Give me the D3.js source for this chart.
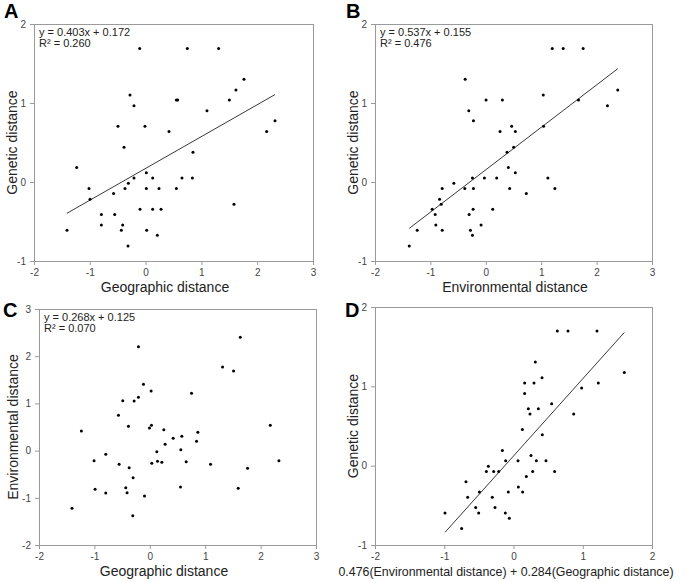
<!DOCTYPE html>
<html><head><meta charset="utf-8">
<script src="https://cdn.jsdelivr.net/npm/d3@7"></script>
<style>
body{margin:0;background:#fff;}
svg{display:block;font-family:Arial,"Liberation Sans",sans-serif;}
</style></head>
<body><div id="chart"></div>
<script>
// ---- data ----
const geneticDist = [1.69,1.69,1.69,1.30,1.164,1.037,1.037,1.037,0.902,0.775,0.640,1.10,0.965,0.707,0.707,0.640,0.441,0.378,0.183,0.116,0.052,0.052,0.052,0.052,-0.015,-0.083,-0.083,-0.083,-0.083,-0.083,-0.146,-0.218,-0.281,-0.345,-0.345,-0.345,-0.412,-0.412,-0.543,-0.543,-0.611,-0.611,-0.611,-0.674,-0.809];
const geoDistA = [-0.106,0.748,1.309,1.763,1.619,1.501,0.551,0.575,1.100,2.319,2.170,-0.280,-0.208,-0.495,-0.011,0.419,-0.387,0.849,-1.235,0.013,-0.208,0.127,0.652,0.838,-0.309,-1.014,-0.369,0.013,0.240,0.551,-0.574,-0.996,1.584,-0.100,0.127,0.276,-0.793,-0.554,-0.793,-0.411,-1.409,-0.435,0.019,0.210,-0.315];

const envDistB = [1.199,1.397,1.757,-0.373,2.382,1.037,0.005,0.299,1.673,-0.307,2.196,-0.223,0.467,1.043,0.257,0.533,0.503,0.383,0.407,0.533,-0.577,-0.241,-0.025,0.197,1.121,-0.787,-0.379,-0.223,0.431,1.247,0.731,-0.835,-0.805,-0.968,-0.229,0.125,-0.914,-0.301,-0.902,-0.085,-1.238,-0.787,-0.277,-0.241,-1.382];
const genDistB = [1.69,1.69,1.69,1.30,1.164,1.10,1.037,1.037,1.037,0.902,0.965,0.775,0.707,0.707,0.640,0.640,0.441,0.378,0.183,0.116,-0.015,0.052,0.052,0.052,0.052,-0.083,-0.083,-0.083,-0.083,-0.083,-0.146,-0.218,-0.281,-0.345,-0.345,-0.345,-0.412,-0.412,-0.543,-0.543,-0.611,-0.611,-0.611,-0.674,-0.809];

const geoDistC = [1.633,-0.205,1.313,1.512,-0.114,0.024,0.753,-0.205,-0.488,-0.283,-0.566,-1.235,-0.386,0.030,-0.006,2.175,0.253,0.867,0.578,0.422,0.843,0.277,0.560,0.127,-0.795,-1.006,0.139,0.217,0.036,0.657,-0.554,1.096,2.331,-0.373,1.765,-0.301,0.554,-0.434,1.596,-0.988,-0.795,-0.410,-0.096,-1.404,-0.307];
const envDistC = [2.400,2.202,1.771,1.686,1.404,1.263,1.213,1.129,1.058,1.051,0.747,0.415,0.514,0.535,0.479,0.535,0.443,0.387,0.302,0.260,0.196,0.133,0.020,-0.023,-0.079,-0.213,-0.227,-0.249,-0.270,-0.234,-0.291,-0.291,-0.213,-0.362,-0.376,-0.573,-0.771,-0.785,-0.799,-0.821,-0.898,-0.891,-0.962,-1.223,-1.379];

const combinedD = [0.633,0.787,1.206,0.315,1.600,0.412,0.161,0.296,1.225,0.984,0.161,0.551,0.214,0.359,0.238,0.869,0.128,0.416,-0.161,0.253,-0.113,0.065,0.330,0.469,-0.363,-0.392,-0.286,-0.214,0.277,0.594,0.185,-0.686,0.070,-0.493,-0.075,0.132,-0.662,-0.306,-0.546,-0.267,-0.989,-0.503,-0.118,-0.060,-0.749];
const genDistD = [1.697,1.697,1.697,1.306,1.175,1.108,1.041,1.041,1.041,0.978,0.910,0.780,0.717,0.717,0.650,0.650,0.456,0.389,0.191,0.128,0.061,0.061,0.061,0.061,-0.007,-0.074,-0.074,-0.074,-0.074,-0.074,-0.137,-0.204,-0.268,-0.331,-0.331,-0.331,-0.398,-0.398,-0.528,-0.528,-0.596,-0.596,-0.596,-0.663,-0.793];

const fitA = {slope:0.403, intercept:0.172, label1:"y = 0.403x + 0.172", label2:"R² = 0.260"};
const fitB = {slope:0.537, intercept:0.155, label1:"y = 0.537x + 0.155", label2:"R² = 0.476"};
const fitC = {label1:"y = 0.268x + 0.125", label2:"R² = 0.070"};
const fitD = {slope:0.973, intercept:0.122};

const xTicksA = [-2,-1,0,1,2,3], yTicksA = [-1,0,1,2];
const xTicksB = [-2,-1,0,1,2,3], yTicksB = [-1,0,1,2];
const xTicksC = [-2,-1,0,1,2,3], yTicksC = [-2,-1,0,1,2,3];
const xTicksD = [-2,-1,0,1,2],   yTicksD = [-1,0,1,2];

// ---- drawing ----
const W=686,H=582;
const svg=d3.select("#chart").append("svg").attr("width",W).attr("height",H);

const panels=[
 {letter:"A",lx:4,ly:18,box:[34,313,24,261],xd:[-2,3],yd:[-1,2],xt:xTicksA,yt:yTicksA,x:geoDistA,y:geneticDist,fit:fitA,line:true,
  xlab:"Geographic distance",xlx:165,xly:292,xfs:14,ylab:"Genetic distance",ylx:17},
 {letter:"B",lx:346,ly:18,box:[375,652,24,261],xd:[-2,3],yd:[-1,2],xt:xTicksB,yt:yTicksB,x:envDistB,y:genDistB,fit:fitB,line:true,
  xlab:"Environmental distance",xlx:515,xly:292,xfs:14,ylab:"Genetic distance",ylx:358},
 {letter:"C",lx:3,ly:317,box:[39,316,309,545],xd:[-2,3],yd:[-2,3],xt:xTicksC,yt:yTicksC,x:geoDistC,y:envDistC,fit:fitC,line:false,
  xlab:"Geographic distance",xlx:164,xly:576,xfs:14,ylab:"Environmental distance",ylx:18},
 {letter:"D",lx:345,ly:317,box:[375,652,307,545],xd:[-2,2],yd:[-1,2],xt:xTicksD,yt:yTicksD,x:combinedD,y:genDistD,fit:fitD,line:true,
  xlab:"0.476(Environmental distance) + 0.284(Geographic distance)",xlx:506,xly:576,xfs:12.4,ylab:"Genetic distance",ylx:358}
];

panels.forEach(p=>{
  const [x0,x1,y0,y1]=p.box;
  const xs=d3.scaleLinear().domain(p.xd).range([x0,x1]);
  const ys=d3.scaleLinear().domain(p.yd).range([y1,y0]);
  const g=svg.append("g");

  // axes
  const ax=g.append("g").attr("transform",`translate(0,${y1})`)
    .call(d3.axisBottom(xs).tickValues(p.xt).tickFormat(d=>String(d)).tickSize(4).tickSizeOuter(0).tickPadding(4));
  const ay=g.append("g").attr("transform",`translate(${x0},0)`)
    .call(d3.axisLeft(ys).tickValues(p.yt).tickFormat(d=>String(d)).tickSize(4).tickSizeOuter(0).tickPadding(4));
  [ax,ay].forEach(a=>{
    a.select(".domain").remove();
    a.selectAll("line").attr("stroke","#9a9a9a");
    a.selectAll("text").attr("fill","#444").style("font-size","10px").style("font-family","Arial,'Liberation Sans',sans-serif");
  });
  // frame
  g.append("rect").attr("x",x0+0.5).attr("y",y0+0.5).attr("width",x1-x0).attr("height",y1-y0)
    .attr("fill","none").attr("stroke","#9a9a9a").attr("stroke-width",1);

  // regression line
  if(p.line){
    const xe=d3.extent(p.x);
    g.append("line")
      .attr("x1",xs(xe[0])).attr("y1",ys(p.fit.slope*xe[0]+p.fit.intercept))
      .attr("x2",xs(xe[1])).attr("y2",ys(p.fit.slope*xe[1]+p.fit.intercept))
      .attr("stroke","#222").attr("stroke-width",0.9);
  }
  // points
  g.selectAll("circle.pt").data(p.x.map((v,i)=>[v,p.y[i]])).enter().append("circle")
    .attr("cx",d=>xs(d[0])).attr("cy",d=>ys(d[1])).attr("r",1.5).attr("fill","#000");

  // equation labels
  if(p.fit.label1){
    g.append("text").attr("x",x0+5).attr("y",y0+12).text(p.fit.label1)
      .style("font-size","11px").attr("fill","#222");
    g.append("text").attr("x",x0+5).attr("y",y0+23).text(p.fit.label2)
      .style("font-size","11px").attr("fill","#222");
  }
  // titles
  g.append("text").attr("x",p.xlx).attr("y",p.xly).attr("text-anchor","middle")
    .style("font-size",p.xfs+"px").attr("fill","#222").text(p.xlab);
  g.append("text").attr("transform",`translate(${p.ylx},${(y0+y1)/2}) rotate(-90)`).attr("text-anchor","middle")
    .style("font-size","14px").attr("fill","#222").text(p.ylab);
  // panel letter
  g.append("text").attr("x",p.lx).attr("y",p.ly).style("font-size","20px").style("font-weight","bold")
    .attr("fill","#000").text(p.letter);
});
</script></body></html>
